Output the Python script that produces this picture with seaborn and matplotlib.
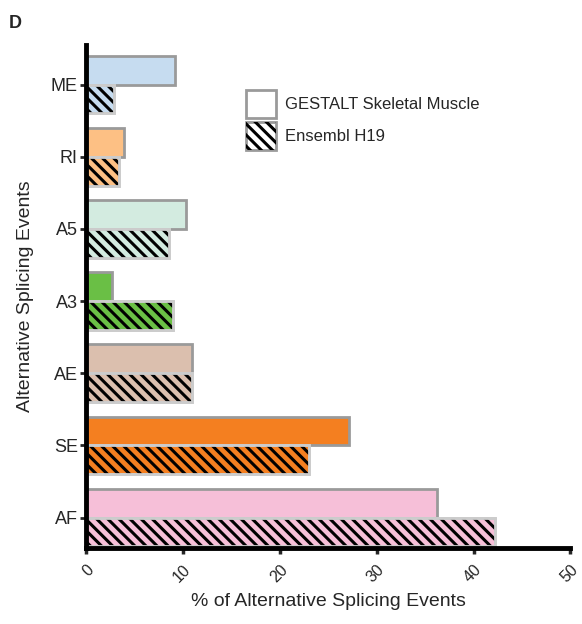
import numpy as np
import pandas as pd
import matplotlib
matplotlib.use('Agg')
import matplotlib.pyplot as plt
import seaborn as sns
from matplotlib.patches import Patch, Rectangle

events = ['ME', 'RI', 'A5', 'A3', 'AE', 'SE', 'AF']
gestalt = [9.2, 3.9, 10.3, 2.7, 10.9, 27.1, 36.2]
ensembl = [2.9, 3.4, 8.6, 9.0, 10.9, 23.0, 42.2]
sources = ['GESTALT Skeletal Muscle', 'Ensembl H19']
colors = ['#c6dcf0', '#fdc084', '#d3ebe0', '#6abf45', '#dbbfae', '#f47f20', '#f6bfd8']
xticks = [0, 10, 20, 30, 40, 50]

df = pd.DataFrame({
    'event': events * 2,
    'pct': gestalt + ensembl,
    'source': [sources[0]] * len(events) + [sources[1]] * len(events),
})

sns.set_style('white')
plt.rcParams['font.family'] = ['Liberation Sans', 'DejaVu Sans']
plt.rcParams['hatch.linewidth'] = 2.2

fig = plt.figure(figsize=(5.82, 6.24), dpi=100)
ax = fig.add_axes([0.148, 0.122, 0.832, 0.806])
sns.barplot(data=df, x='pct', y='event', hue='source', order=events,
            hue_order=sources, orient='h', width=0.8, ax=ax, legend=False)

HATCH = '\\\\\\'
n = len(events)
bars = list(ax.patches[:2 * n])
for i, p in enumerate(bars):
    p.set_facecolor(colors[i % n])
    p.set_linewidth(2)
    if i < n:
        p.set_edgecolor('#9a9a9a')
    else:
        p.set_edgecolor('#cccccc')
        # black hatch drawn on top, keeping the light outline
        ax.add_patch(Rectangle(p.get_xy(), p.get_width(), p.get_height(),
                               facecolor='none', edgecolor='black',
                               linewidth=0, hatch=HATCH, zorder=p.get_zorder() + 0.1))
        ax.add_patch(Rectangle(p.get_xy(), p.get_width(), p.get_height(),
                               facecolor='none', edgecolor='#cccccc',
                               linewidth=2, zorder=p.get_zorder() + 0.2))

ax.set_xlim(0, 50)
ax.set_ylim(6.42, -0.55)
ax.set_xticks(xticks)
ax.set_xticklabels([str(t) for t in xticks], rotation=45, fontsize=11.5,
                   ha='right', rotation_mode='anchor')
ax.tick_params(axis='y', labelsize=13, length=4, width=2, left=True, pad=2)
ax.tick_params(axis='x', length=4, width=2.5, bottom=True, pad=6)
for s in ['top', 'right']:
    ax.spines[s].set_visible(False)
for s in ['left', 'bottom']:
    ax.spines[s].set_linewidth(3.5)
    ax.spines[s].set_color('black')
ax.set_xlabel('% of Alternative Splicing Events', fontsize=14, labelpad=6)
ax.set_ylabel('Alternative Splicing Events', fontsize=14, labelpad=12)

h1 = Patch(facecolor='white', edgecolor='#9a9a9a', linewidth=2)
h2 = (Patch(facecolor='white', edgecolor='#9a9a9a', linewidth=2),
      Patch(facecolor='none', edgecolor='black', linewidth=0, hatch=HATCH))
ax.legend([h1, h2], sources, loc='upper left', bbox_to_anchor=(0.3, 0.94),
          frameon=False, fontsize=12, handlelength=1.8, handleheight=2.2,
          handletextpad=0.5, labelspacing=0.25)

fig.text(0.015, 0.955, 'D', fontsize=13, fontweight='bold')
fig.savefig('out.png', dpi=100)
